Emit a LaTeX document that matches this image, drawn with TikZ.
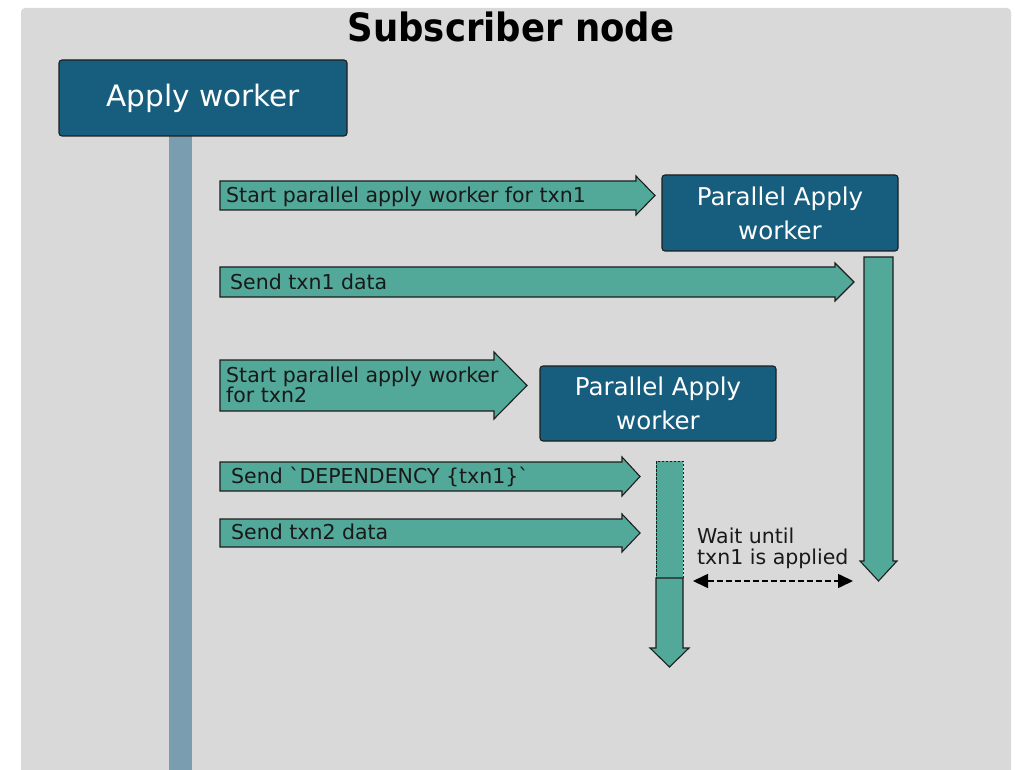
\documentclass[tikz,border=0pt]{standalone}
\usepackage{fontspec}
\usepackage{graphicx}
\setmainfont{DejaVu Sans}
\usetikzlibrary{arrows.meta}

\definecolor{panelgray}{HTML}{D9D9D9}
\definecolor{workerblue}{HTML}{175E7E}
\definecolor{flowgreen}{HTML}{52A899}
\definecolor{lifelineblue}{HTML}{7A9DB0}
\definecolor{edgedark}{HTML}{1E1E1E}

% block arrow pointing right: x0, x of head base, x of tip, body top, body bottom, head overhang
\newcommand\rightblock[6]{%
  \filldraw[blockarrow] (#1,#4) -- (#2,#4) -- (#2,{#4-#6}) -- (#3,{(#4+#5)/2})
    -- (#2,{#5+#6}) -- (#2,#5) -- (#1,#5) -- cycle;}
% block arrow pointing down: left x, right x, body top, head base y, tip y, head overhang
\newcommand\downblock[6]{%
  \filldraw[blockarrow] (#1,#3) -- (#2,#3) -- (#2,#4) -- ({#2+#6},#4)
    -- ({(#1+#2)/2},#5) -- ({#1-#6},#4) -- (#1,#4) -- cycle;}

\begin{document}
\begin{tikzpicture}[x=1pt,y=-1pt,
  blockarrow/.style={fill=flowgreen, draw=edgedark, line width=1.1pt, line join=miter},
  workerbox/.style={fill=workerblue, draw=edgedark, line width=1.1pt, rounded corners=3pt,
    text=white, inner sep=0pt, align=center},
  msglabel/.style={font=\fontsize{20.5}{20}\selectfont, anchor=base west, inner sep=0pt,
    text=black!90},
  padtext/.style={font=\fontsize{24.5}{34}\selectfont}]
\useasboundingbox (0,0) rectangle (1015,770);
\clip (0,0) rectangle (1015,770);
\fill[white] (0,0) rectangle (1015,770);

% subscriber panel
\fill[panelgray, rounded corners=4pt] (21,8) rectangle (1011,800);
\node[font=\bfseries\fontsize{39}{40}\selectfont, anchor=base, inner sep=0pt] (title)
  at (511,42) {\scalebox{0.91}[1]{Subscriber node}};

% apply worker and its lifeline
\fill[lifelineblue] (169,136) rectangle (192,770);
\node[workerbox, minimum width=288pt, minimum height=76pt,
  font=\fontsize{29.5}{30}\selectfont] (aw) at (203,98) {Apply worker};

% first parallel apply worker
\rightblock{220}{636}{655}{181}{210}{5}
\node[msglabel] (m1) at (226,203) {Start parallel apply worker for txn1};
\node[workerbox, padtext, minimum width=236pt, minimum height=76pt] (pa1)
  at (780,213) {Parallel Apply\\worker};

\rightblock{220}{835}{854}{267}{297}{4}
\node[msglabel] (m2) at (230,289) {Send txn1 data};
\downblock{864}{893}{257}{561}{581}{4}

% second parallel apply worker
\rightblock{220}{494}{527}{360}{411}{8}
\node[msglabel] (m3a) at (226,382) {Start parallel apply worker};
\node[msglabel] (m3b) at (226,402) {for txn2};
\node[workerbox, padtext, minimum width=236pt, minimum height=75pt] (pa2)
  at (658,403.5) {Parallel Apply\\worker};

\rightblock{220}{622}{640}{462}{491}{5}
\node[msglabel] (m4) at (231,483) {Send \textasciigrave DEPENDENCY \{txn1\}\textasciigrave};
\rightblock{220}{622}{640}{519}{547}{5}
\node[msglabel] (m5) at (231,539) {Send txn2 data};

% waiting period, then applying txn2
\filldraw[fill=flowgreen, draw=edgedark, line width=0.6pt, dash pattern=on 2.5pt off 1.5pt]
  (656,461) rectangle (683,578);
\downblock{656}{683}{578}{648}{667}{6}

\node[msglabel] (w1) at (697,543) {Wait until};
\node[msglabel] (w2) at (697,564) {txn1 is applied};
\coordinate (waitL) at (693,581);
\coordinate (waitR) at (853,581);
\draw[line width=1.6pt, dash pattern=on 6pt off 3pt,
  {Triangle[length=15pt,width=14pt]}-{Triangle[length=15pt,width=14pt]}] (waitL) -- (waitR);
\end{tikzpicture}
\end{document}
